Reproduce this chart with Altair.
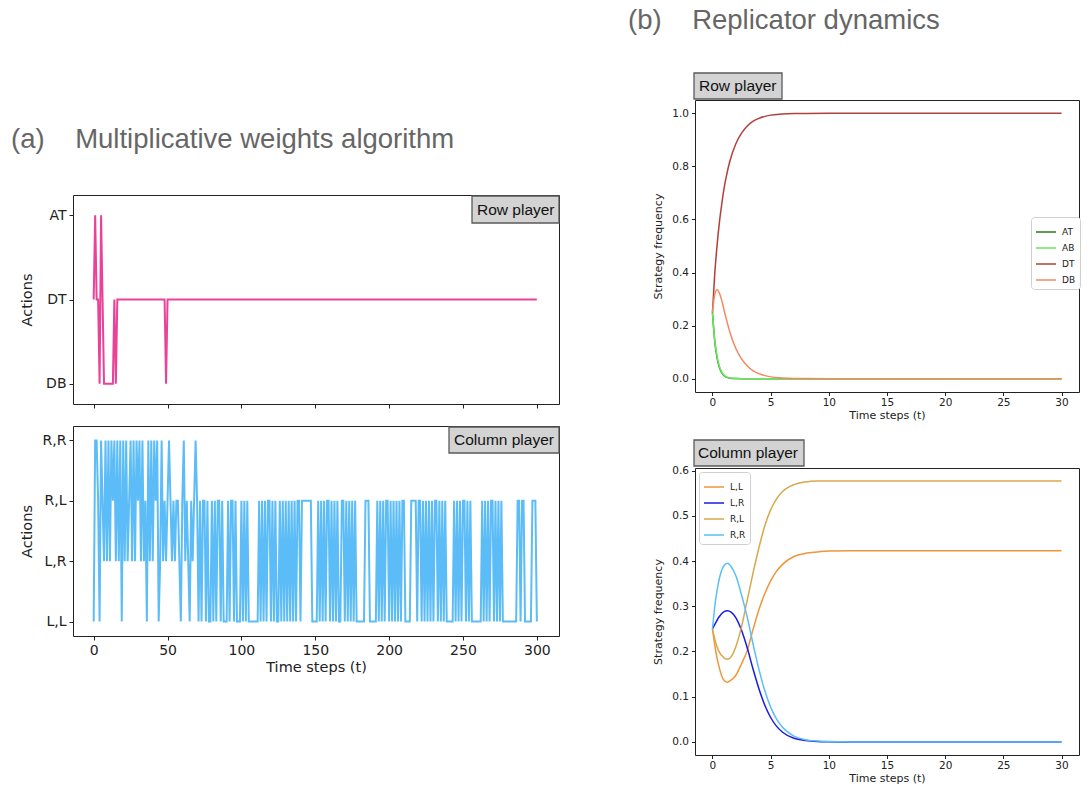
import altair as alt
import pandas as pd

# ---------------- (a) Multiplicative weights algorithm ----------------
T_MW = list(range(301))

ROW_NAMES = ["DB", "DT", "AB", "AT"]          # code -> action
ROW_ORDER = ["AT", "AB", "DT", "DB"]          # top to bottom
ROW_CODES = "1311031" + "0" * 7 + "1" + "0" + "1" * 33 + "0" + "1" * 251

COL_NAMES = ["L,L", "L,R", "R,L", "R,R"]
COL_ORDER = ["R,R", "R,L", "L,R", "L,L"]
COL_EARLY = ["0332032131", "3132313130", "3131231313", "2313120313",
             "1323013121", "2321212210", "2312102123"]
COL_LATE = ["2020220200202022020", "00", "202202", "000", "20202", "0000000",
            "202020220202002020202", "02020220", "2222222", "0000",
            "202020220202020022020202020", "00000", "222", "00000",
            "20202022020202020220", "000", "2222022020202020220202020", "0000",
            "2020202202020", "000000", "202020220202020", "000000000",
            "22", "0", "22", "00000", "222", "0"]
COL_CODES = "".join(COL_EARLY) + "".join(COL_LATE)

# ---------------- (b) Replicator dynamics ----------------
ROW_T = [0, 0.2, 0.4, 0.6, 0.8, 1.0, 1.25, 1.5, 2, 2.5, 3, 3.5, 4, 5, 6, 7, 8, 10, 15, 20, 25, 30]
ROW_AT = [0.25, 0.14, 0.078, 0.042, 0.022, 0.011, 0.005, 0.002, 0.0005, 0.0001, 0, 0, 0, 0, 0, 0, 0, 0, 0, 0, 0, 0]
ROW_AB = [0.25, 0.145, 0.083, 0.046, 0.025, 0.013, 0.006, 0.0025, 0.0006, 0.0001, 0, 0, 0, 0, 0, 0, 0, 0, 0, 0, 0, 0]
ROW_DT = [0.25, 0.397, 0.504, 0.59, 0.658, 0.718, 0.774, 0.82, 0.884, 0.925, 0.952, 0.97, 0.981, 0.993, 0.997, 0.999, 0.9996, 1.0, 1.0, 1.0, 1.0, 1.0]
ROW_DB = [0.25, 0.318, 0.335, 0.322, 0.295, 0.258, 0.215, 0.175, 0.115, 0.075, 0.048, 0.03, 0.019, 0.007, 0.003, 0.001, 0.0004, 0, 0, 0, 0, 0]

COL_T = [0, 0.25, 0.5, 1, 1.3, 1.6, 2, 2.5, 3, 3.5, 4, 4.5, 5, 5.5, 6, 7, 8, 9, 10, 12, 15, 20, 25, 30]
COL_LL = [0.25, 0.206, 0.173, 0.136, 0.132, 0.137, 0.147, 0.173, 0.203, 0.25, 0.293, 0.328, 0.356, 0.377, 0.392, 0.41, 0.417, 0.42, 0.422, 0.423, 0.423, 0.423, 0.423, 0.423]
COL_LR = [0.25, 0.262, 0.274, 0.288, 0.29, 0.287, 0.275, 0.247, 0.207, 0.16, 0.117, 0.081, 0.054, 0.035, 0.022, 0.008, 0.003, 0.001, 0.0004, 0, 0, 0, 0, 0]
COL_RL = [0.25, 0.222, 0.203, 0.186, 0.183, 0.188, 0.21, 0.255, 0.315, 0.375, 0.43, 0.478, 0.513, 0.537, 0.553, 0.569, 0.575, 0.577, 0.577, 0.577, 0.577, 0.577, 0.577, 0.577]
COL_RR = [0.25, 0.31, 0.35, 0.39, 0.395, 0.388, 0.368, 0.325, 0.275, 0.215, 0.16, 0.113, 0.077, 0.051, 0.033, 0.013, 0.005, 0.002, 0.0007, 0.0001, 0, 0, 0, 0]

ROW_SERIES = ["AT", "AB", "DT", "DB"]
ROW_COLORS = ["#237a23", "#6ae85a", "#b0403a", "#f28a60"]
COL_SERIES = ["L,L", "L,R", "R,L", "R,R"]
COL_COLORS = ["#f0963a", "#1a1ae6", "#d8a84c", "#5bbff5"]

PINK = "#ea4199"
SKY = "#5bbcf7"
TXT = "#222222"
SANS = "Liberation Sans"
MPL = "DejaVu Sans"

# ---------------- tables ----------------
row_df = pd.DataFrame({"t": T_MW, "action": [ROW_NAMES[int(c)] for c in ROW_CODES]})
col_df = pd.DataFrame({"t": T_MW, "action": [COL_NAMES[int(c)] for c in COL_CODES]})

rd_row = pd.concat([pd.DataFrame({"t": ROW_T, "freq": v, "series": s})
                    for s, v in zip(ROW_SERIES, [ROW_AT, ROW_AB, ROW_DT, ROW_DB])], ignore_index=True)
rd_col = pd.concat([pd.DataFrame({"t": COL_T, "freq": v, "series": s})
                    for s, v in zip(COL_SERIES, [COL_LL, COL_LR, COL_RL, COL_RR])], ignore_index=True)

W_L, H_ROW, H_COL = 486, 209, 210
W_R, H_RT, H_RB = 384, 292, 287


def label_box(text, x0, x1, y0, y1, tx, ty):
    d = pd.DataFrame({"label": [text]})
    box = alt.Chart(d).mark_rect(fill="#d3d3d3", stroke="#5a5a5a", strokeWidth=1.3).encode(
        x=alt.value(x0), x2=alt.value(x1), y=alt.value(y0), y2=alt.value(y1))
    txt = alt.Chart(d).mark_text(align="left", baseline="middle", font=SANS, fontSize=15.5, color="#111").encode(
        x=alt.value(tx), y=alt.value(ty), text="label:N")
    return [box, txt]


def mw_panel(df, order, color, h, show_x, box):
    x = alt.X("t:Q", scale=alt.Scale(domain=[-14, 315], nice=False, zero=False),
              axis=alt.Axis(values=list(range(0, 301, 50)), labels=show_x,
                            title="Time steps (t)" if show_x else None,
                            tickSize=4, labelFontSize=14, titleFontSize=14.5, labelPadding=3, titlePadding=3))
    y = alt.Y("action:N", sort=order, scale=alt.Scale(type="point", padding=0.24),
              axis=alt.Axis(title="Actions", titleX=-46, titleY=h / 2, titleBaseline="middle",
                            titleFontSize=14.5, labelFontSize=14, tickSize=4, labelPadding=3))
    line = alt.Chart(df).mark_line(color=color, strokeWidth=2).encode(x=x, y=y, order="t:Q")
    return alt.layer(line, *box).properties(width=W_L, height=h)


row_panel = mw_panel(row_df, ROW_ORDER, PINK, H_ROW, False,
                     label_box("Row player", 399, 486, 1, 28, 404, 14.5))
col_panel = mw_panel(col_df, COL_ORDER, SKY, H_COL, True,
                     label_box("Column player", 376, 486, 1, 27, 381, 14))

spacer = alt.Chart(pd.DataFrame({"s": ["(a)\u00a0\u00a0\u00a0\u00a0Multiplicative weights algorithm"]})).mark_text(
    align="left", baseline="middle", font=SANS, fontSize=27.5, color="#666666").encode(
    x=alt.value(-62), y=alt.value(40), text="s:N").properties(
    width=W_L, height=73, view=alt.ViewBackground(stroke="transparent"))


def rd_panel(df, series, colors, ydom, yvals, h, legend, extra):
    x = alt.X("t:Q", scale=alt.Scale(domain=[-1.5, 31.5], nice=False, zero=False),
              axis=alt.Axis(values=[0, 5, 10, 15, 20, 25, 30], title="Time steps (t)",
                            tickSize=3.5, labelFontSize=10.5, titleFontSize=11, labelPadding=2, titlePadding=1))
    y = alt.Y("freq:Q", scale=alt.Scale(domain=ydom, nice=False, zero=False),
              axis=alt.Axis(values=yvals, format=".1f", title="Strategy frequency",
                            titleX=-37, titleY=h / 2, titleBaseline="middle",
                            tickSize=3.5, labelFontSize=10.5, titleFontSize=11, labelPadding=3))
    c = alt.Color("series:N", scale=alt.Scale(domain=series, range=colors), legend=legend)
    line = alt.Chart(df).mark_line(strokeWidth=1.5, interpolate="monotone").encode(x=x, y=y, color=c)
    return alt.layer(line, *extra).properties(width=W_R, height=h)


def leg(lx, ly):
    return alt.Legend(title=None, orient="none", legendX=lx, legendY=ly, symbolType="stroke",
                      symbolSize=400, symbolStrokeWidth=1.5, labelFontSize=9, labelFont=MPL,
                      labelColor=TXT, rowPadding=-5, padding=4, fillColor="white",
                      strokeColor="#d0d0d0", cornerRadius=3, labelOffset=5)


title_b = alt.Chart(pd.DataFrame({"s": ["(b)\u00a0\u00a0\u00a0\u00a0Replicator dynamics"]})).mark_text(
    align="left", baseline="middle", font=SANS, fontSize=27.5, color="#666666").encode(
    x=alt.value(-67), y=alt.value(-79), text="s:N")

rt_row = rd_panel(rd_row, ROW_SERIES, ROW_COLORS, [-0.05, 1.05], [0, 0.2, 0.4, 0.6, 0.8, 1.0], H_RT,
                  leg(336, 117), [title_b] + label_box("Row player", -1, 87, -27, -1, 4, -14))
rt_col = rd_panel(rd_col, COL_SERIES, COL_COLORS, [-0.0289, 0.6057], [0, 0.1, 0.2, 0.3, 0.4, 0.5, 0.6], H_RB,
                  leg(4, 4), label_box("Column player", -1, 109, -28, -2, 3, -15))

left = alt.vconcat(spacer, row_panel, col_panel, spacing=22, bounds="flush")
right = alt.vconcat(rt_row, rt_col, spacing=76, bounds="flush").resolve_scale(color="independent")

chart = alt.hconcat(left, right, spacing=622, bounds="flush").resolve_scale(
    color="independent").properties(padding={"left": 2, "top": -2, "right": 0, "bottom": 0}).configure_view(
    stroke="#222222", strokeWidth=1).configure_axis(
    labelFont=MPL, titleFont=MPL, labelColor=TXT, titleColor=TXT, titleFontWeight="normal",
    tickColor=TXT, grid=False, domain=False, labelAngle=0)

chart.save("out.html", embed_options={"renderer": "svg", "actions": False})
